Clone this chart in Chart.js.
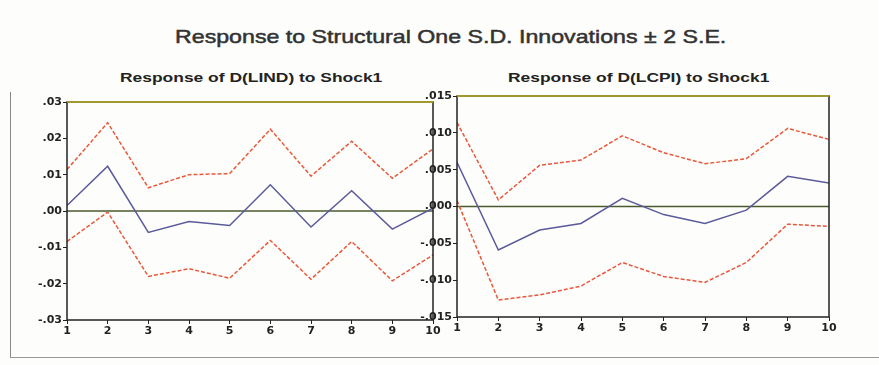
<!DOCTYPE html>
<html>
<head>
<meta charset="utf-8">
<script src="https://cdn.jsdelivr.net/npm/chart.js@4.4.1/dist/chart.umd.min.js"></script>
<style>
  body { margin: 0; background: #fdfdfb; width: 879px; height: 365px; position: relative; overflow: hidden; font-family: "Liberation Sans", Arial, sans-serif; }
  .box { position: absolute; }
  .title { position: absolute; top: 26px; left: 175px; white-space: nowrap; font-size: 19px; line-height: 22px; font-weight: normal; -webkit-text-stroke: 0.5px #333; color: #333; transform: scaleX(1.22); transform-origin: left top; }
  .sub { position: absolute; top: 70px; white-space: nowrap; font-size: 13px; font-weight: bold; color: #222; transform: scaleX(1.34); transform-origin: left top; }
  .frameL { position: absolute; left: 10px; top: 92px; width: 1px; height: 266px; background: #888; }
  .frameB { position: absolute; left: 10px; top: 357px; width: 869px; height: 1px; background: #999; }
</style>
</head>
<body>
<div class="frameL"></div>
<div class="frameB"></div>
<div class="title">Response to Structural One S.D. Innovations ± 2 S.E.</div>
<div class="sub" style="left:120px">Response of D(LIND) to Shock1</div>
<div class="sub" style="left:508px">Response of D(LCPI) to Shock1</div>
<div class="box" style="left:0px;top:90px;width:445px;height:250px"><canvas id="c1"></canvas></div>
<div class="box" style="left:400px;top:84px;width:440px;height:253px"><canvas id="c2"></canvas></div>
<script>
var periods = [1, 2, 3, 4, 5, 6, 7, 8, 9, 10];

var lindResp  = [0.0015, 0.0123, -0.0059, -0.0029, -0.0040, 0.0072, -0.0044, 0.0056, -0.0050, 0.0008];
var lindUpper = [0.0114, 0.0243, 0.0064, 0.0100, 0.0103, 0.0225, 0.0096, 0.0192, 0.0090, 0.0171];
var lindLower = [-0.0084, -0.0003, -0.0180, -0.0159, -0.0185, -0.0081, -0.0188, -0.0084, -0.0192, -0.0121];

var lcpiResp  = [0.0060, -0.0059, -0.0032, -0.0023, 0.0011, -0.0011, -0.0023, -0.0005, 0.0041, 0.0032];
var lcpiUpper = [0.0114, 0.0009, 0.0056, 0.0063, 0.0096, 0.0073, 0.0058, 0.0065, 0.0106, 0.0091];
var lcpiLower = [0.0008, -0.0127, -0.0120, -0.0108, -0.0076, -0.0095, -0.0103, -0.0076, -0.0024, -0.0027];

function pts(vals) {
  return vals.map(function (v, i) { return { x: periods[i], y: v }; });
}

// eviews style tick label: .03, -.01, .000
function fmt(dec) {
  return function (v) {
    var s = Math.abs(v).toFixed(dec).replace(/^0/, '');
    return (v < -1e-9 ? '-' : '') + s;
  };
}

var frame = {
  id: 'frame',
  beforeDatasetsDraw: function (chart) {
    var a = chart.chartArea, ctx = chart.ctx;
    var y0 = chart.scales.y.getPixelForValue(0);
    ctx.save();
    ctx.strokeStyle = '#4b5a2e';
    ctx.lineWidth = 1.5;
    ctx.beginPath();
    ctx.moveTo(a.left, y0);
    ctx.lineTo(a.right, y0);
    ctx.stroke();
    ctx.restore();
  },
  afterDatasetsDraw: function (chart) {
    var a = chart.chartArea, ctx = chart.ctx;
    ctx.save();
    ctx.strokeStyle = '#222';
    ctx.lineWidth = 1.5;
    ctx.strokeRect(a.left, a.top, a.right - a.left, a.bottom - a.top);
    ctx.strokeStyle = '#b8b020';
    ctx.beginPath();
    ctx.moveTo(a.left, a.top);
    ctx.lineTo(a.right, a.top);
    ctx.stroke();
    ctx.restore();
  }
};

var tickFont = { family: 'DejaVu Sans', size: 11, weight: 'bold' };

function makeChart(id, resp, upper, lower, lim, step, dec, pad) {
  new Chart(id, {
    type: 'line',
    data: {
      datasets: [{
        data: pts(upper),
        borderColor: '#e8583c',
        borderWidth: 1.5,
        borderDash: [4, 2],
        pointRadius: 0,
        fill: false
      }, {
        data: pts(lower),
        borderColor: '#e8583c',
        borderWidth: 1.5,
        borderDash: [4, 2],
        pointRadius: 0,
        fill: false
      }, {
        data: pts(resp),
        borderColor: '#5a5a9c',
        borderWidth: 1.5,
        pointRadius: 0,
        fill: false
      }]
    },
    options: {
      responsive: true,
      maintainAspectRatio: false,
      animation: false,
      layout: { padding: pad },
      plugins: { legend: { display: false }, tooltip: { enabled: false } },
      scales: {
        x: {
          type: 'linear',
          min: 1,
          max: 10,
          afterFit: function (s) { s.height = 18; },
          afterBuildTicks: function (s) { s.ticks = periods.map(function (p) { return { value: p }; }); },
          grid: { drawOnChartArea: false, color: '#222', tickLength: 4 },
          border: { display: false },
          ticks: { color: '#222', padding: 1, font: tickFont }
        },
        y: {
          min: -lim,
          max: lim,
          afterFit: function (s) { s.width = 57; },
          grid: { drawOnChartArea: false, color: '#222', tickLength: 4 },
          border: { display: false },
          ticks: { stepSize: step, color: '#222', padding: 1, callback: fmt(dec), font: tickFont }
        }
      }
    },
    plugins: [frame]
  });
}

makeChart('c1', lindResp, lindUpper, lindLower, 0.03, 0.01, 2, { left: 10, right: 12, top: 12, bottom: 2 });
makeChart('c2', lcpiResp, lcpiUpper, lcpiLower, 0.015, 0.005, 3, { left: 0, right: 11, top: 12, bottom: 2 });
</script>
</body>
</html>
